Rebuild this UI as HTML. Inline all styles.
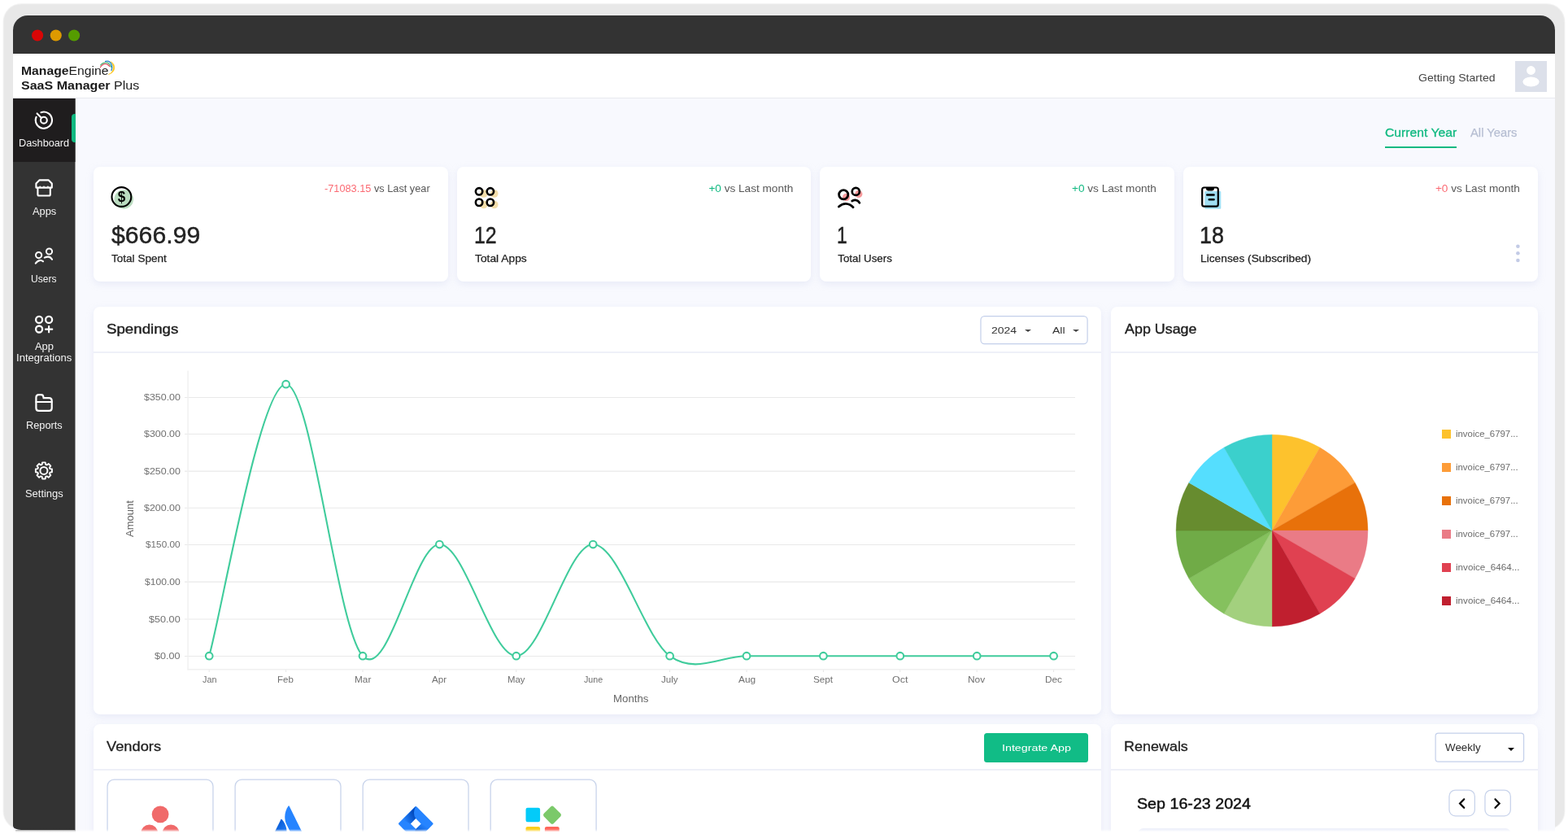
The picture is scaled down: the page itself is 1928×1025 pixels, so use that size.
<!DOCTYPE html>
<html lang="en">
<head>
<meta charset="utf-8">
<title>SaaS Manager Plus - Dashboard</title>
<style>
*{box-sizing:border-box;margin:0;padding:0}
html,body{width:1928px;height:1025px;overflow:hidden;background:#fff}
body{font-family:"Liberation Sans",sans-serif;color:#1f1f1f;position:relative}
.win{position:absolute;left:16.3px;top:19px;width:1895.8px;height:1005px;border-radius:18px 18px 0 0;overflow:hidden;background:#f8f9fe}
.pg{position:absolute;left:-16.3px;top:-19px;width:1928px;height:1025px}
.pg *{position:absolute}
.pg span,.pg b{position:static}
.t{white-space:nowrap}
.titlebar{left:16px;top:19px;width:1896px;height:47px;background:#333}
.header{left:16px;top:66px;width:1896px;height:55.2px;background:#fff;border-bottom:1px solid #e8e9ee}
.side{left:16.3px;top:121px;width:76.1px;height:899.3px;background:#333;border-radius:0 0 0 10px/0 0 0 5px}
.act{left:16.3px;top:121px;width:76.1px;height:78px;background:#1f1d1e}
.ind{left:88px;top:140px;width:4.6px;height:35px;background:#10b981;border-radius:4px 0 0 4px}
.card{background:#fff;border-radius:8px;box-shadow:0 3px 9px rgba(205,211,236,.36)}
.red{color:#fb6a73}.grn{color:#10b981}
.pdiv{height:1.6px;background:#eef0f8}
.fade{position:absolute;left:93px;top:1019.2px;width:1835px;height:5.8px;background:linear-gradient(to bottom,rgba(255,255,255,0) 0,rgba(255,255,255,.5) 1.7px,#fff 3.5px,#fff 100%)}
.fade2{position:absolute;left:0;top:1020.2px;width:93px;height:4.8px;background:#fff}
.sh{position:absolute;left:19px;top:1020.2px;width:74px;height:3px;background:linear-gradient(to bottom,rgba(60,60,60,.5) 0,rgba(60,60,60,.18) 1.2px,rgba(60,60,60,0) 3px)}
</style>
</head>
<body>
<svg style="position:absolute;left:0;top:0;width:1928px;height:1025px" viewBox="0 0 1928 1025"><rect x="4.3" y="4.9" width="1919.4" height="1014.2" rx="22" fill="#e8e8e8" stroke="#ededed" stroke-opacity=".6" stroke-width="1.6"/></svg>
<div class="win"><div class="pg">
  <div class="titlebar"></div>
  <svg style="left:36px;top:34px;width:66px;height:20px" viewBox="36 34 66 20"><circle cx="46.1" cy="43.55" r="7.05" fill="#d90606"/><circle cx="68.75" cy="43.55" r="7.05" fill="#dd9a00"/><circle cx="91.1" cy="43.55" r="7.05" fill="#559c00"/></svg>
  <div class="header"></div>
  <div class="t" style="left:25.54px;top:79px;font-size:14.8px;line-height:16px;color:#1b1b1b;transform:scaleX(1.0623);transform-origin:0 0;"><b>Manage</b><span>Engine</span></div>
<svg style="left:118px;top:70px;width:28px;height:26px" viewBox="118 70 28 26" fill="none" stroke-linecap="round">
  <path d="M123.3 82.9 C125 79.3 129 77.3 132.2 79.2 C133.5 80 134.4 80.9 134.9 81.8" stroke="#d7263a" stroke-width="1.05" opacity=".92"/>
  <path d="M123.6 80 C126.5 76.6 130.6 76 133.4 77.8 C135.2 79 136.2 80.6 136.7 82.4" stroke="#21a455" stroke-width="1.15" opacity=".92"/>
  <path d="M129.6 75.4 C133.4 74.6 136.4 76.6 137.5 80.2 C138.2 82.6 137.8 84.8 137 86.6" stroke="#1b7fcc" stroke-width="1.35" opacity=".95"/>
  <path d="M136.2 75.8 C139.6 77.4 141.2 80.6 140.8 84 C140.4 87.6 137.4 90.6 133.2 91.5 C136.6 90.2 138.8 87.4 139.2 84 C139.6 80.8 138.4 77.8 136.2 75.8Z" fill="#fcc419" stroke="#fcc419" stroke-width=".5"/>
</svg>
<div class="t" style="left:26.08px;top:96px;font-size:15.3px;line-height:17px;color:#1b1b1b;transform:scaleX(1.0473);transform-origin:0 0;"><b>SaaS Manager</b><span> Plus</span></div>
<div class="t" style="left:1743.97px;top:88px;font-size:13.4px;line-height:15px;color:#454545;transform:scaleX(1.0501);transform-origin:0 0;">Getting Started</div>
<div style="left:1863.4px;top:75px;width:38.6px;height:37.8px;background:#dce0ea"></div>
<svg style="left:1863px;top:75px;width:39px;height:38px" viewBox="1863 75 39 38"><circle cx="1882.5" cy="86.5" r="5.4" fill="#fff"/><ellipse cx="1882.5" cy="100.4" rx="10.1" ry="6" fill="#fff"/></svg>

  <div class="side"></div>
  <div class="act"></div>
  <div style="left:92px;top:121px;width:1px;height:899px;background:#333;opacity:.5"></div>
  <div style="left:92px;top:121px;width:1px;height:78px;background:#1f1d1e;opacity:.5"></div>
  <div class="ind"></div>
  <svg style="left:40px;top:134px;width:28px;height:28px" viewBox="40 134 28 28" fill="none" stroke="#fff" stroke-linecap="round" stroke-linejoin="round" ><path d="M50.45 138.21 A10.1 10.1 0 1 1 44.60 143.75" stroke-width="2.1"/><circle cx="53.9" cy="147.7" r="3.9" stroke-width="2.1"/><path d="M45.6 139.4 L51 144.9" stroke-width="2.1"/></svg>
<svg style="left:40px;top:217px;width:28px;height:28px" viewBox="40 217 28 28" fill="none" stroke="#fff" stroke-linecap="round" stroke-linejoin="round" ><path d="M44.4 230.6 L44.4 225.4 L48.4 221.4 L59.8 221.4 L63.8 225.4 L63.8 230.6 Z" stroke-width="2.1"/><path d="M46.4 231.5 V239 Q46.4 240.5 47.9 240.5 H60.3 Q61.8 240.5 61.8 239 V231.5" stroke-width="2.1"/><path d="M49.2 229.2 v.8 M54 229.2 v.8 M58.9 229.2 v.8" stroke-width="1.6"/></svg>
<svg style="left:40px;top:302px;width:28px;height:26px" viewBox="40 302 28 26" fill="none" stroke="#fff" stroke-linecap="round" stroke-linejoin="round" ><circle cx="47.6" cy="313.6" r="3.6" stroke-width="2"/><circle cx="60.5" cy="309" r="3.6" stroke-width="2"/><path d="M43.8 323.6 Q46.4 320.2 49.6 320 Q51.6 319.9 53 321.3" stroke-width="2.1"/><path d="M54.8 316.6 Q57 315.5 59.4 315.6 Q62.2 315.8 64 318.8" stroke-width="2.1"/></svg>
<svg style="left:40px;top:386px;width:28px;height:26px" viewBox="40 386 28 26" fill="none" stroke="#fff" stroke-linecap="round" stroke-linejoin="round" ><circle cx="48.1" cy="392.9" r="4" stroke-width="2.3"/><circle cx="60.1" cy="392.9" r="4" stroke-width="2.3"/><circle cx="48.1" cy="404.5" r="4" stroke-width="2.3"/><path d="M56 404.7 H64.2 M60.1 401 V408.3" stroke-width="2.2"/></svg>
<svg style="left:40px;top:481px;width:28px;height:28px" viewBox="40 481 28 28" fill="none" stroke="#fff" stroke-linecap="round" stroke-linejoin="round" ><path d="M44.4 488.5 Q44.4 485.1 47.8 485.1 H50.6 Q53 485.1 53.3 487.6 L53.6 489.2 H60.3 Q63.7 489.2 63.7 492.6 V501.4 Q63.7 504.8 60.3 504.8 H47.8 Q44.4 504.8 44.4 501.4 Z" stroke-width="2.2"/><path d="M44.4 494 H63.7" stroke-width="2.2"/></svg>
<svg style="left:40px;top:565px;width:28px;height:28px" viewBox="40 565 28 28" fill="none" stroke="#fff" stroke-linecap="round" stroke-linejoin="round" ><path d="M51.66 570.83 L52.04 568.37 L55.76 568.37 L56.14 570.83 L57.67 571.46 L59.68 569.99 L62.31 572.62 L60.84 574.63 L61.47 576.16 L63.93 576.54 L63.93 580.26 L61.47 580.64 L60.84 582.17 L62.31 584.18 L59.68 586.81 L57.67 585.34 L56.14 585.97 L55.76 588.43 L52.04 588.43 L51.66 585.97 L50.13 585.34 L48.12 586.81 L45.49 584.18 L46.96 582.17 L46.33 580.64 L43.87 580.26 L43.87 576.54 L46.33 576.16 L46.96 574.63 L45.49 572.62 L48.12 569.99 L50.13 571.46Z" stroke-width="1.9"/><circle cx="53.9" cy="578.4" r="4.5" stroke-width="2"/></svg>
<div class="t" style="left:22.87px;top:169px;font-size:12.3px;line-height:14px;color:#f3f3f3;transform:scaleX(1.0325);transform-origin:0 0;">Dashboard</div>
<div class="t" style="left:39.90px;top:253px;font-size:12.3px;line-height:14px;color:#f3f3f3;transform:scaleX(1.0450);transform-origin:0 0;">Apps</div>
<div class="t" style="left:38.22px;top:336px;font-size:12.3px;line-height:14px;color:#f3f3f3;transform:scaleX(0.9789);transform-origin:0 0;">Users</div>
<div class="t" style="left:42.60px;top:419px;font-size:12.3px;line-height:14px;color:#f3f3f3;transform:scaleX(1.0512);transform-origin:0 0;">App</div>
<div class="t" style="left:19.74px;top:433px;font-size:12.3px;line-height:14px;color:#f3f3f3;transform:scaleX(1.0619);transform-origin:0 0;">Integrations</div>
<div class="t" style="left:31.66px;top:516px;font-size:12.3px;line-height:14px;color:#f3f3f3;transform:scaleX(1.0395);transform-origin:0 0;">Reports</div>
<div class="t" style="left:30.87px;top:600px;font-size:12.3px;line-height:14px;color:#f3f3f3;transform:scaleX(1.0506);transform-origin:0 0;">Settings</div>

  <div class="t" style="left:1702.59px;top:154px;font-size:15.5px;line-height:17px;color:#10b981;-webkit-text-stroke:0.35px #10b981;transform:scaleX(1.0139);transform-origin:0 0;">Current Year</div>
<div style="left:1703px;top:180px;width:88px;height:2.1px;background:#10b981"></div>
<div class="t" style="left:1807.94px;top:154px;font-size:15.5px;line-height:17px;color:#b6bed2;-webkit-text-stroke:0.25px #b6bed2;transform:scaleX(0.9527);transform-origin:0 0;">All Years</div>

  <div class="card" style="left:115px;top:205px;width:436px;height:141.3px"></div>
<div class="t" style="left:137.30px;top:273px;font-size:29.2px;line-height:32px;color:#222;-webkit-text-stroke:0.45px #222;transform:scaleX(1.0354);transform-origin:0 0;">$666.99</div>
<div class="t" style="left:137.30px;top:310px;font-size:13.3px;line-height:15px;color:#222;-webkit-text-stroke:0.25px #222;transform:scaleX(1.0195);transform-origin:0 0;">Total Spent</div>
<div class="t" style="left:398.63px;top:224px;font-size:13.6px;line-height:15px;color:#585858;transform:scaleX(0.9375);transform-origin:0 0;"><span class="red">-71083.15</span> vs Last year</div>
<div class="card" style="left:562px;top:205px;width:435px;height:141.3px"></div>
<div class="t" style="left:582.59px;top:273px;font-size:29.2px;line-height:32px;color:#222;-webkit-text-stroke:0.45px #222;transform:scaleX(0.8547);transform-origin:0 0;">12</div>
<div class="t" style="left:584.30px;top:310px;font-size:13.3px;line-height:15px;color:#222;-webkit-text-stroke:0.25px #222;transform:scaleX(1.0393);transform-origin:0 0;">Total Apps</div>
<div class="t" style="left:871.40px;top:224px;font-size:13.6px;line-height:15px;color:#585858;"><span class="grn">+0</span> vs Last month</div>
<div class="card" style="left:1008px;top:205px;width:436px;height:141.3px"></div>
<div class="t" style="left:1029.03px;top:273px;font-size:29.2px;line-height:32px;color:#222;-webkit-text-stroke:0.45px #222;transform:scaleX(0.7846);transform-origin:0 0;">1</div>
<div class="t" style="left:1030.30px;top:310px;font-size:13.3px;line-height:15px;color:#222;-webkit-text-stroke:0.25px #222;">Total Users</div>
<div class="t" style="left:1318.00px;top:224px;font-size:13.6px;line-height:15px;color:#585858;"><span class="grn">+0</span> vs Last month</div>
<div class="card" style="left:1455px;top:205px;width:436px;height:141.3px"></div>
<div class="t" style="left:1475.16px;top:273px;font-size:29.2px;line-height:32px;color:#222;-webkit-text-stroke:0.45px #222;transform:scaleX(0.9220);transform-origin:0 0;">18</div>
<div class="t" style="left:1476.27px;top:310px;font-size:13.3px;line-height:15px;color:#222;-webkit-text-stroke:0.25px #222;transform:scaleX(1.0346);transform-origin:0 0;">Licenses (Subscribed)</div>
<div class="t" style="left:1764.90px;top:224px;font-size:13.6px;line-height:15px;color:#585858;"><span class="red">+0</span> vs Last month</div>
<svg style="left:132px;top:225px;width:36px;height:36px" viewBox="132 225 36 36" fill="none" stroke-linecap="round" stroke-linejoin="round"><circle cx="152.2" cy="245" r="11.8" fill="#badcc0"/><circle cx="149.4" cy="242" r="11.9" stroke="#000" stroke-width="2.1"/><text transform="translate(149.45 248) scale(.9 1)" text-anchor="middle" font-family="Liberation Sans, sans-serif" font-weight="700" font-size="19" fill="#000">$</text></svg>
<svg style="left:580px;top:226px;width:36px;height:34px" viewBox="580 226 36 34" fill="none" stroke-linecap="round" stroke-linejoin="round"><circle cx="594.8" cy="238" r="4.8" fill="#f3deaa"/><circle cx="594.8" cy="251.5" r="4.8" fill="#f3deaa"/><circle cx="607.75" cy="238" r="4.8" fill="#f3deaa"/><circle cx="607.75" cy="251.5" r="4.8" fill="#f3deaa"/><circle cx="589.1" cy="235.3" r="4.2" stroke="#000" stroke-width="2.6"/><circle cx="589.1" cy="248.75" r="4.2" stroke="#000" stroke-width="2.6"/><circle cx="602.9" cy="235.3" r="4.2" stroke="#000" stroke-width="2.6"/><circle cx="602.9" cy="248.75" r="4.2" stroke="#000" stroke-width="2.6"/></svg>
<svg style="left:1026px;top:226px;width:38px;height:34px" viewBox="1026 226 38 34" fill="none" stroke-linecap="round" stroke-linejoin="round"><circle cx="1040.5" cy="242.4" r="4.6" fill="#f89a9c"/><circle cx="1055.8" cy="238.4" r="4.6" fill="#f89a9c"/><circle cx="1037.2" cy="239.3" r="5.6" stroke="#000" stroke-width="2.8"/><circle cx="1052.3" cy="235.4" r="4.55" stroke="#000" stroke-width="2.7"/><path d="M1031.4 254 Q1035.6 250.2 1040 250.3 Q1045 250.5 1049 254.8" stroke="#000" stroke-width="2.8"/><path d="M1047.7 247 Q1049.8 245.8 1051.8 245.9 Q1055.2 246.2 1056.9 249.4" stroke="#000" stroke-width="2.7"/></svg>
<svg style="left:1474px;top:226px;width:32px;height:34px" viewBox="1474 226 32 34" fill="none" stroke-linecap="round" stroke-linejoin="round"><rect x="1481.3" y="235.1" width="20" height="21.6" rx="1" fill="#a0dff3"/><rect x="1478.2" y="230.5" width="19.6" height="23.1" rx="2.4" stroke="#000" stroke-width="2.2"/><path d="M1483 230 H1492.9 V232 Q1492.9 234.4 1490.5 234.4 H1485.4 Q1483 234.4 1483 232 Z" fill="#000"/><path d="M1484.3 239.5 H1492.5 M1486.8 245.2 H1492.5" stroke="#000" stroke-width="2.6"/></svg>
<svg style="left:1862px;top:298px;width:10px;height:28px" viewBox="1862 298 10 28" fill="none" stroke-linecap="round" stroke-linejoin="round"><circle cx="1866.4" cy="302.8" r="2.3" fill="#c3cbe6"/><circle cx="1866.4" cy="311.3" r="2.3" fill="#c3cbe6"/><circle cx="1866.4" cy="320" r="2.3" fill="#c3cbe6"/></svg>

  <div class="card" style="left:115px;top:377.2px;width:1239px;height:501px"></div>
<div class="t" style="left:130.94px;top:395px;font-size:16.6px;line-height:19px;color:#1f1f1f;-webkit-text-stroke:0.4px #1f1f1f;transform:scaleX(1.1265);transform-origin:0 0;">Spendings</div>
<div class="pdiv" style="left:115px;top:432.2px;width:1239px"></div>
<svg style="left:1203px;top:386px;width:138px;height:40px" viewBox="1203 386 138 40"><rect x="1205.95" y="388.65" width="131.15" height="34.05" rx="4.6" fill="#fff" stroke="#c3cfea" stroke-width="1.2"/></svg>
<div class="t" style="left:1219.00px;top:400px;font-size:11.6px;line-height:12px;color:#333;transform:scaleX(1.2040);transform-origin:0 0;">2024</div>
<div style="left:1260.1px;top:404.9px;width:0;height:0;border-left:4.35px solid transparent;border-right:4.35px solid transparent;border-top:3.9px solid #484848"></div>
<div class="t" style="left:1294.40px;top:400px;font-size:11.6px;line-height:12px;color:#333;transform:scaleX(1.2122);transform-origin:0 0;">All</div>
<div style="left:1318.5px;top:404.9px;width:0;height:0;border-left:4.35px solid transparent;border-right:4.35px solid transparent;border-top:3.9px solid #484848"></div>
<svg style="left:115px;top:434px;width:1239px;height:444px" viewBox="115 434 1239 444" fill="none" font-family="Liberation Sans, sans-serif"><line x1="227" y1="806.40" x2="1322" y2="806.40" stroke="#e9e9e9" stroke-width="1.05"/><line x1="227" y1="760.90" x2="1322" y2="760.90" stroke="#e9e9e9" stroke-width="1.05"/><line x1="227" y1="715.10" x2="1322" y2="715.10" stroke="#e9e9e9" stroke-width="1.05"/><line x1="227" y1="669.40" x2="1322" y2="669.40" stroke="#e9e9e9" stroke-width="1.05"/><line x1="227" y1="624.20" x2="1322" y2="624.20" stroke="#e9e9e9" stroke-width="1.05"/><line x1="227" y1="579.10" x2="1322" y2="579.10" stroke="#e9e9e9" stroke-width="1.05"/><line x1="227" y1="533.40" x2="1322" y2="533.40" stroke="#e9e9e9" stroke-width="1.05"/><line x1="227" y1="488.40" x2="1322" y2="488.40" stroke="#e9e9e9" stroke-width="1.05"/><line x1="231.1" y1="455.4" x2="231.1" y2="823.4" stroke="#f0f0f0" stroke-width="1.4"/><line x1="230.4" y1="822.8" x2="1322" y2="822.8" stroke="#f0f0f0" stroke-width="1.4"/><line x1="257.20" y1="823.4" x2="257.20" y2="826" stroke="#e6e6e6" stroke-width="1"/><line x1="351.60" y1="823.4" x2="351.60" y2="826" stroke="#e6e6e6" stroke-width="1"/><line x1="446.00" y1="823.4" x2="446.00" y2="826" stroke="#e6e6e6" stroke-width="1"/><line x1="540.40" y1="823.4" x2="540.40" y2="826" stroke="#e6e6e6" stroke-width="1"/><line x1="634.80" y1="823.4" x2="634.80" y2="826" stroke="#e6e6e6" stroke-width="1"/><line x1="729.20" y1="823.4" x2="729.20" y2="826" stroke="#e6e6e6" stroke-width="1"/><line x1="823.60" y1="823.4" x2="823.60" y2="826" stroke="#e6e6e6" stroke-width="1"/><line x1="918.00" y1="823.4" x2="918.00" y2="826" stroke="#e6e6e6" stroke-width="1"/><line x1="1012.40" y1="823.4" x2="1012.40" y2="826" stroke="#e6e6e6" stroke-width="1"/><line x1="1106.80" y1="823.4" x2="1106.80" y2="826" stroke="#e6e6e6" stroke-width="1"/><line x1="1201.20" y1="823.4" x2="1201.20" y2="826" stroke="#e6e6e6" stroke-width="1"/><line x1="1295.60" y1="823.4" x2="1295.60" y2="826" stroke="#e6e6e6" stroke-width="1"/><path d="M257.20 806.20 C272.93 750.53 320.13 472.20 351.60 472.20 C383.07 472.20 414.53 773.39 446.00 806.20 C477.47 839.01 508.93 669.05 540.40 669.05 C571.87 669.05 603.33 806.20 634.80 806.20 C666.27 806.20 697.73 669.05 729.20 669.05 C760.67 669.05 792.13 783.34 823.60 806.20 C855.07 829.06 886.53 806.20 918.00 806.20 C949.47 806.20 980.93 806.20 1012.40 806.20 C1043.87 806.20 1075.33 806.20 1106.80 806.20 C1138.27 806.20 1169.73 806.20 1201.20 806.20 C1232.67 806.20 1279.87 806.20 1295.60 806.20" stroke="#40cc9c" stroke-width="2.1" stroke-linecap="butt"/><circle cx="257.20" cy="806.20" r="4.35" fill="#fff" stroke="#40cc9c" stroke-width="2.1"/><circle cx="351.60" cy="472.20" r="4.35" fill="#fff" stroke="#40cc9c" stroke-width="2.1"/><circle cx="446.00" cy="806.20" r="4.35" fill="#fff" stroke="#40cc9c" stroke-width="2.1"/><circle cx="540.40" cy="669.05" r="4.35" fill="#fff" stroke="#40cc9c" stroke-width="2.1"/><circle cx="634.80" cy="806.20" r="4.35" fill="#fff" stroke="#40cc9c" stroke-width="2.1"/><circle cx="729.20" cy="669.05" r="4.35" fill="#fff" stroke="#40cc9c" stroke-width="2.1"/><circle cx="823.60" cy="806.20" r="4.35" fill="#fff" stroke="#40cc9c" stroke-width="2.1"/><circle cx="918.00" cy="806.20" r="4.35" fill="#fff" stroke="#40cc9c" stroke-width="2.1"/><circle cx="1012.40" cy="806.20" r="4.35" fill="#fff" stroke="#40cc9c" stroke-width="2.1"/><circle cx="1106.80" cy="806.20" r="4.35" fill="#fff" stroke="#40cc9c" stroke-width="2.1"/><circle cx="1201.20" cy="806.20" r="4.35" fill="#fff" stroke="#40cc9c" stroke-width="2.1"/><circle cx="1295.60" cy="806.20" r="4.35" fill="#fff" stroke="#40cc9c" stroke-width="2.1"/></svg>
<div class="t" style="left:190.20px;top:800px;font-size:10.6px;line-height:12px;color:#707070;transform:scaleX(1.1886);transform-origin:0 0;">$0.00</div>
<div class="t" style="left:183.20px;top:755px;font-size:10.6px;line-height:12px;color:#707070;transform:scaleX(1.1938);transform-origin:0 0;">$50.00</div>
<div class="t" style="left:177.90px;top:709px;font-size:10.6px;line-height:12px;color:#707070;transform:scaleX(1.1447);transform-origin:0 0;">$100.00</div>
<div class="t" style="left:179.20px;top:663px;font-size:10.6px;line-height:12px;color:#707070;transform:scaleX(1.1105);transform-origin:0 0;">$150.00</div>
<div class="t" style="left:176.80px;top:618px;font-size:10.6px;line-height:12px;color:#707070;transform:scaleX(1.1737);transform-origin:0 0;">$200.00</div>
<div class="t" style="left:176.80px;top:573px;font-size:10.6px;line-height:12px;color:#707070;transform:scaleX(1.1737);transform-origin:0 0;">$250.00</div>
<div class="t" style="left:176.80px;top:527px;font-size:10.6px;line-height:12px;color:#707070;transform:scaleX(1.1737);transform-origin:0 0;">$300.00</div>
<div class="t" style="left:176.80px;top:482px;font-size:10.6px;line-height:12px;color:#707070;transform:scaleX(1.1737);transform-origin:0 0;">$350.00</div>
<div class="t" style="left:248.64px;top:829px;font-size:10.6px;line-height:12px;color:#707070;transform:scaleX(1.0215);transform-origin:0 0;">Jan</div>
<div class="t" style="left:341.44px;top:829px;font-size:10.6px;line-height:12px;color:#707070;transform:scaleX(1.0841);transform-origin:0 0;">Feb</div>
<div class="t" style="left:435.57px;top:829px;font-size:10.6px;line-height:12px;color:#707070;transform:scaleX(1.1130);transform-origin:0 0;">Mar</div>
<div class="t" style="left:531.45px;top:829px;font-size:10.6px;line-height:12px;color:#707070;transform:scaleX(1.1015);transform-origin:0 0;">Apr</div>
<div class="t" style="left:623.64px;top:829px;font-size:10.6px;line-height:12px;color:#707070;transform:scaleX(1.0753);transform-origin:0 0;">May</div>
<div class="t" style="left:717.70px;top:829px;font-size:10.6px;line-height:12px;color:#707070;transform:scaleX(1.0112);transform-origin:0 0;">June</div>
<div class="t" style="left:813.18px;top:829px;font-size:10.6px;line-height:12px;color:#707070;transform:scaleX(1.0973);transform-origin:0 0;">July</div>
<div class="t" style="left:907.75px;top:829px;font-size:10.6px;line-height:12px;color:#707070;transform:scaleX(1.1233);transform-origin:0 0;">Aug</div>
<div class="t" style="left:1000.10px;top:829px;font-size:10.6px;line-height:12px;color:#707070;transform:scaleX(1.1059);transform-origin:0 0;">Sept</div>
<div class="t" style="left:1096.81px;top:829px;font-size:10.6px;line-height:12px;color:#707070;transform:scaleX(1.1750);transform-origin:0 0;">Oct</div>
<div class="t" style="left:1190.26px;top:829px;font-size:10.6px;line-height:12px;color:#707070;transform:scaleX(1.1222);transform-origin:0 0;">Nov</div>
<div class="t" style="left:1284.86px;top:829px;font-size:10.6px;line-height:12px;color:#707070;transform:scaleX(1.1155);transform-origin:0 0;">Dec</div>
<div class="t" style="left:754.41px;top:852px;font-size:12.2px;line-height:14px;color:#666;transform:scaleX(1.0857);transform-origin:0 0;">Months</div>
<div class="t" style="left:164px;top:638px;width:0;height:0;overflow:visible;transform:rotate(-90deg);transform-origin:0 0"><div class="t" style="left:-22.40px;top:-11px;font-size:12.2px;line-height:14px;color:#666;transform-origin:0 0;transform:scaleX(1.0667)">Amount</div></div>

  <div class="card" style="left:1365.6px;top:377.2px;width:1525.4px;height:501px;width:525.4px"></div>
<div class="t" style="left:1382.67px;top:395px;font-size:16.6px;line-height:19px;color:#1f1f1f;-webkit-text-stroke:0.4px #1f1f1f;transform:scaleX(1.0780);transform-origin:0 0;">App Usage</div>
<div class="pdiv" style="left:1365.6px;top:432.2px;width:525.4px"></div>
<svg style="left:1440px;top:528px;width:250px;height:250px" viewBox="1440 528 250 250"><path d="M1564.0 652.1 L1564.00 534.20 A117.9 117.9 0 0 1 1622.95 550.00Z" fill="#fdc22d" stroke="#fdc22d" stroke-width=".4"/><path d="M1564.0 652.1 L1622.95 550.00 A117.9 117.9 0 0 1 1666.10 593.15Z" fill="#fd9c38" stroke="#fd9c38" stroke-width=".4"/><path d="M1564.0 652.1 L1666.10 593.15 A117.9 117.9 0 0 1 1681.90 652.10Z" fill="#e8710a" stroke="#e8710a" stroke-width=".4"/><path d="M1564.0 652.1 L1681.90 652.10 A117.9 117.9 0 0 1 1666.10 711.05Z" fill="#ea7b86" stroke="#ea7b86" stroke-width=".4"/><path d="M1564.0 652.1 L1666.10 711.05 A117.9 117.9 0 0 1 1622.95 754.20Z" fill="#e04151" stroke="#e04151" stroke-width=".4"/><path d="M1564.0 652.1 L1622.95 754.20 A117.9 117.9 0 0 1 1564.00 770.00Z" fill="#c01f2f" stroke="#c01f2f" stroke-width=".4"/><path d="M1564.0 652.1 L1564.00 770.00 A117.9 117.9 0 0 1 1505.05 754.20Z" fill="#a3d07e" stroke="#a3d07e" stroke-width=".4"/><path d="M1564.0 652.1 L1505.05 754.20 A117.9 117.9 0 0 1 1461.90 711.05Z" fill="#85c15e" stroke="#85c15e" stroke-width=".4"/><path d="M1564.0 652.1 L1461.90 711.05 A117.9 117.9 0 0 1 1446.10 652.10Z" fill="#70ab47" stroke="#70ab47" stroke-width=".4"/><path d="M1564.0 652.1 L1446.10 652.10 A117.9 117.9 0 0 1 1461.90 593.15Z" fill="#678c2f" stroke="#678c2f" stroke-width=".4"/><path d="M1564.0 652.1 L1461.90 593.15 A117.9 117.9 0 0 1 1505.05 550.00Z" fill="#55defe" stroke="#55defe" stroke-width=".4"/><path d="M1564.0 652.1 L1505.05 550.00 A117.9 117.9 0 0 1 1564.00 534.20Z" fill="#3bd0cc" stroke="#3bd0cc" stroke-width=".4"/></svg>
<div style="left:1773.4px;top:528.10px;width:11px;height:10.7px;background:#fdc22d"></div>
<div class="t" style="left:1789.64px;top:527px;font-size:11.2px;line-height:12px;color:#6b6b6b;transform:scaleX(1.0190);transform-origin:0 0;">invoice_6797...</div>
<div style="left:1773.4px;top:569.10px;width:11px;height:10.7px;background:#fd9c38"></div>
<div class="t" style="left:1789.64px;top:568px;font-size:11.2px;line-height:12px;color:#6b6b6b;transform:scaleX(1.0190);transform-origin:0 0;">invoice_6797...</div>
<div style="left:1773.4px;top:610.10px;width:11px;height:10.7px;background:#e8710a"></div>
<div class="t" style="left:1789.64px;top:609px;font-size:11.2px;line-height:12px;color:#6b6b6b;transform:scaleX(1.0190);transform-origin:0 0;">invoice_6797...</div>
<div style="left:1773.4px;top:651.10px;width:11px;height:10.7px;background:#ea7b86"></div>
<div class="t" style="left:1789.64px;top:650px;font-size:11.2px;line-height:12px;color:#6b6b6b;transform:scaleX(1.0190);transform-origin:0 0;">invoice_6797...</div>
<div style="left:1773.4px;top:692.10px;width:11px;height:10.7px;background:#e04151"></div>
<div class="t" style="left:1789.62px;top:691px;font-size:11.2px;line-height:12px;color:#6b6b6b;transform:scaleX(1.0422);transform-origin:0 0;">invoice_6464...</div>
<div style="left:1773.4px;top:733.10px;width:11px;height:10.7px;background:#c01f2f"></div>
<div class="t" style="left:1789.62px;top:732px;font-size:11.2px;line-height:12px;color:#6b6b6b;transform:scaleX(1.0422);transform-origin:0 0;">invoice_6464...</div>

  <div class="card" style="left:115px;top:889.8px;width:1239px;height:200px"></div>
<div class="t" style="left:131.47px;top:908px;font-size:16.7px;line-height:19px;color:#1f1f1f;-webkit-text-stroke:0.3px #1f1f1f;transform:scaleX(1.0951);transform-origin:0 0;">Vendors</div>
<div class="pdiv" style="left:115px;top:945.3px;width:1239px"></div>
<div style="left:1209.5px;top:900.5px;width:128.4px;height:36.6px;border-radius:3.5px;background:#11bc86"></div>
<div class="t" style="left:1231.59px;top:912px;font-size:11.8px;line-height:14px;color:#fff;transform:scaleX(1.2087);transform-origin:0 0;">Integrate App</div>
<svg style="left:128px;top:955px;width:612px;height:70px" viewBox="128 955 612 70" fill="#fff" stroke="#c9d4eb" stroke-width="1.3"><rect x="132.05" y="958.05" width="129.9" height="120" rx="8.2"/><rect x="289.10" y="958.05" width="129.9" height="120" rx="8.2"/><rect x="446.15" y="958.05" width="129.9" height="120" rx="8.2"/><rect x="603.20" y="958.05" width="129.9" height="120" rx="8.2"/></svg>
<svg style="left:170px;top:985px;width:530px;height:40px" viewBox="170 985 530 40"><defs><linearGradient id="ga" x1="0" y1="0" x2="1" y2="1"><stop offset="0" stop-color="#0050c8"/><stop offset="1" stop-color="#2380fb"/></linearGradient><linearGradient id="gj1" x1="1" y1="0.3" x2="0" y2="1"><stop offset="0.15" stop-color="#0049bd"/><stop offset=".85" stop-color="#2684ff"/></linearGradient><linearGradient id="gj2" x1="0" y1="1" x2="1" y2="0"><stop offset="0.1" stop-color="#0049bd"/><stop offset=".8" stop-color="#2684ff"/></linearGradient></defs><circle cx="197.1" cy="1000.8" r="10.4" fill="#f06a6a"/><circle cx="183.7" cy="1023.8" r="10.4" fill="#f06a6a"/><circle cx="210.1" cy="1023.8" r="10.4" fill="#f06a6a"/><path d="M354.6 990.4 C350.2 996.6 348.8 1005 352 1012.4 L357.4 1023.4 Q358 1024.6 359.2 1024.6 L371.6 1024.6 L371.6 1023 L355.6 990.6 Q355.1 989.8 354.6 990.4Z" fill="#2684ff"/><path d="M346.6 1006.9 Q346 1006.3 345.4 1007.2 L337.4 1023.2 L337.4 1024.6 L352.2 1024.6 C353.4 1018.8 351 1012 346.6 1006.9Z" fill="url(#ga)"/><path d="M510.2 991.6 Q511.3 990.5 512.4 991.6 L532 1011.2 Q533.2 1012.4 532 1013.6 L511.3 1034.3 L490.6 1013.6 Q489.4 1012.4 490.6 1011.2 Z" fill="#2684ff"/><path d="M511.3 991 L495 1007.4 L505 1012.4 L511.3 1006 Q506.6 999.6 511.3 991Z" fill="url(#gj1)"/><path d="M511.3 1018.8 L517.7 1012.4 L527.5 1017.4 L517 1027 L513 1026 Q509 1022.6 511.3 1018.8Z" fill="url(#gj2)" opacity=".85"/><path d="M511.3 1006 L517.7 1012.4 L511.3 1018.8 L504.9 1012.4Z" fill="#fff"/><rect x="646.5" y="992.7" width="17.6" height="17.6" rx="2.2" fill="#03cbf9"/><rect x="-8.5" y="-8.5" width="17" height="17" rx="2.6" transform="translate(679 1001.7) rotate(45)" fill="#7bc96a"/><rect x="646.5" y="1015.9" width="17.6" height="12" rx="2.2" fill="#fdcf1c"/><rect x="669.9" y="1015.9" width="17.8" height="12" rx="2.2" fill="#ff675b"/></svg>

  <div class="card" style="left:1365.6px;top:889.8px;width:525.4px;height:200px"></div>
<div class="t" style="left:1382.06px;top:908px;font-size:16.7px;line-height:19px;color:#1f1f1f;-webkit-text-stroke:0.3px #1f1f1f;transform:scaleX(1.0760);transform-origin:0 0;">Renewals</div>
<div class="pdiv" style="left:1365.6px;top:945.3px;width:525.4px"></div>
<svg style="left:1762px;top:898px;width:116px;height:42px" viewBox="1762 898 116 42"><rect x="1765.1" y="901.1" width="108.5" height="35" rx="3.4" fill="#fff" stroke="#c3cfea" stroke-width="1.2"/></svg>
<div class="t" style="left:1777.00px;top:912px;font-size:12.1px;line-height:14px;color:#2a2a2a;transform:scaleX(1.1063);transform-origin:0 0;">Weekly</div>
<div style="left:1854px;top:919.3px;width:0;height:0;border-left:4.5px solid transparent;border-right:4.5px solid transparent;border-top:4px solid #111"></div>
<div class="t" style="left:1398.37px;top:977px;font-size:18.4px;line-height:21px;color:#111;-webkit-text-stroke:0.45px #111;transform:scaleX(1.0695);transform-origin:0 0;">Sep 16-23 2024</div>
<svg style="left:1778px;top:968px;width:84px;height:38px" viewBox="1778 968 84 38" fill="#fff" stroke="#c9d4eb" stroke-width="1.3"><rect x="1781.95" y="971.05" width="31.4" height="31.8" rx="7.6"/><rect x="1825.95" y="971.05" width="31.4" height="31.8" rx="7.6"/><g fill="none" stroke="#000" stroke-width="2.25" stroke-linecap="round" stroke-linejoin="miter"><path d="M1800.2 982.3 L1795.1 987.5 L1800.2 992.7"/><path d="M1838.5 982.3 L1843.6 987.5 L1838.5 992.7"/></g></svg>
<div style="left:1398.6px;top:1018px;width:459px;height:30px;border-radius:7px;background:#edf0fa"></div>

</div></div>
<div class="fade"></div><div class="fade2"></div><div class="sh"></div>
</body>
</html>
